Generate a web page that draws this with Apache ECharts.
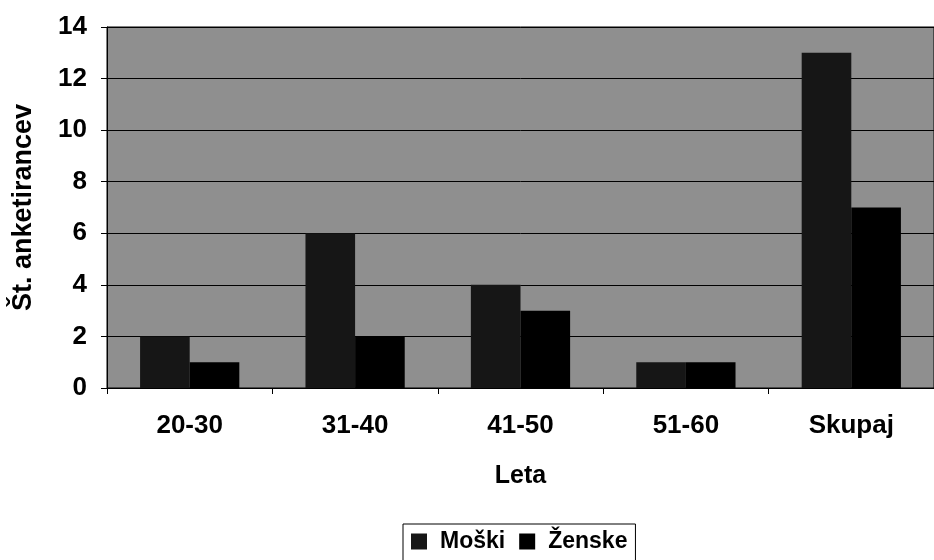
<!DOCTYPE html>
<html>
<head>
<meta charset="utf-8">
<script src="https://cdn.jsdelivr.net/npm/echarts@6/dist/echarts.min.js"></script>
<style>
  html, body { margin: 0; padding: 0; background: #fff; }
  #chart { width: 934px; height: 560px; }
</style>
</head>
<body>
<div id="chart"></div>
<script>
    var categories = ['20-30', '31-40', '41-50', '51-60', 'Skupaj'];
    var moski = [2, 6, 4, 1, 13];
    var zenske = [1, 2, 3, 1, 7];
    var yTicks = [0, 2, 4, 6, 8, 10, 12, 14];

    var chart = echarts.init(document.getElementById('chart'));
    var font = 'Liberation Sans, Arial, sans-serif';

    var option = {
        animation: false,
        backgroundColor: '#fff',
        textStyle: { fontFamily: font },
        grid: {
            left: 107,
            right: -8,
            top: 27,
            bottom: 172,
            show: true,
            backgroundColor: '#8f8f8f',
            borderColor: '#000',
            borderWidth: 1
        },
        legend: {
            data: ['Moški', 'Ženske'],
            top: 524,
            left: 403,
            itemWidth: 16,
            itemHeight: 16,
            itemGap: 14,
            icon: 'rect',
            borderColor: '#000',
            borderWidth: 1,
            padding: [6, 8, 10, 8],
            textStyle: { fontFamily: font, fontSize: 23, fontWeight: 'bold', color: '#000', padding: [0, 0, 0, 8] }
        },
        xAxis: {
            type: 'category',
            data: categories,
            name: 'Leta',
            nameLocation: 'middle',
            nameGap: 76,
            nameTextStyle: { fontFamily: font, fontSize: 25, fontWeight: 'bold', color: '#000' },
            axisLine: { lineStyle: { color: '#000', width: 1 } },
            axisTick: { show: true, length: 6, lineStyle: { color: '#000' } },
            axisLabel: { margin: 25, fontFamily: font, fontSize: 26, fontWeight: 'bold', color: '#000' }
        },
        yAxis: {
            type: 'value',
            min: yTicks[0],
            max: yTicks[yTicks.length - 1],
            interval: 2,
            name: 'Št. anketirancev',
            nameLocation: 'middle',
            nameGap: 70,
            nameTextStyle: { fontFamily: font, fontSize: 27, fontWeight: 'bold', color: '#000' },
            axisLine: { show: true, lineStyle: { color: '#000', width: 1 } },
            axisTick: { show: true, length: 6, lineStyle: { color: '#000' } },
            axisLabel: { margin: 20, fontFamily: font, fontSize: 26, fontWeight: 'bold', color: '#000' },
            splitLine: { show: true, lineStyle: { color: '#000', width: 1 } }
        },
        series: [
            {
                name: 'Moški',
                type: 'bar',
                data: moski,
                barGap: '0%',
                barCategoryGap: '40%',
                itemStyle: { color: '#161616' }
            },
            {
                name: 'Ženske',
                type: 'bar',
                data: zenske,
                itemStyle: { color: '#000' }
            }
        ]
    };
    chart.setOption(option);
</script>
</body>
</html>
